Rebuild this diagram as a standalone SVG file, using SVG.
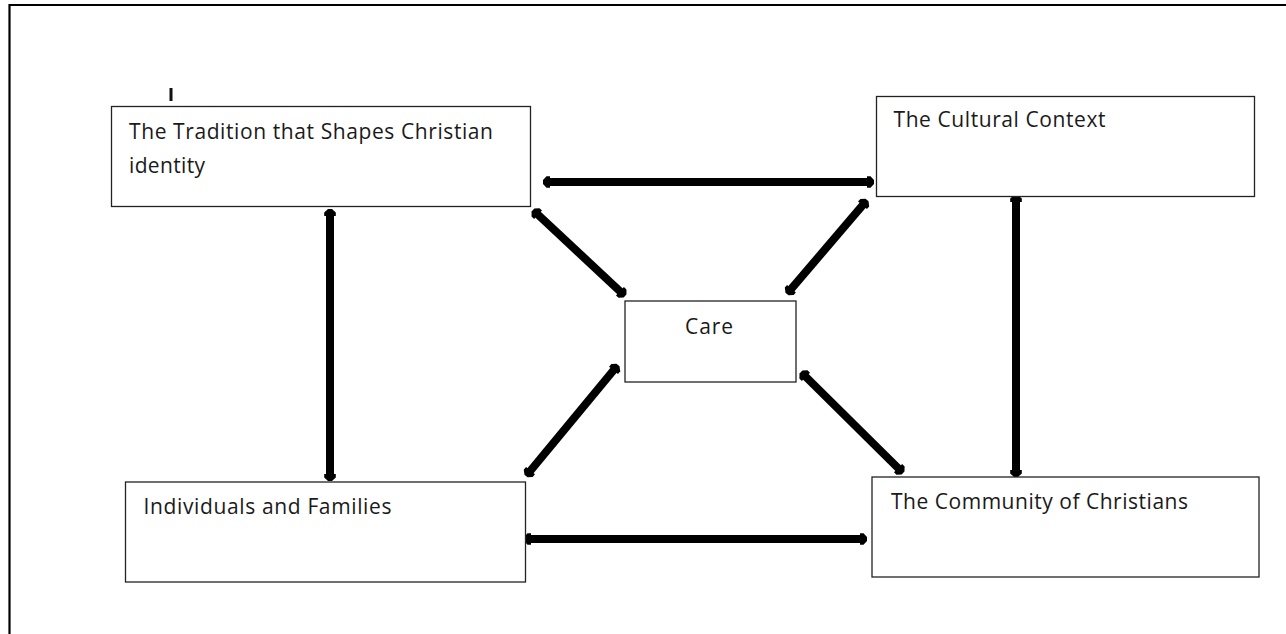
<svg xmlns="http://www.w3.org/2000/svg" width="1286" height="634" viewBox="0 0 1286 634">
  <style>
    .box { fill: #ffffff; stroke: #222222; stroke-width: 1.3; }
    .lbl { font-family: "Open Sans", "Noto Sans", "Liberation Sans", sans-serif; font-size: 21px; fill: #1a1a1a; }
    .conn { stroke: #000000; stroke-width: 8; fill: none; marker-start: url(#head); marker-end: url(#head); }
  </style>
  <defs>
    <marker id="head" markerUnits="userSpaceOnUse" markerWidth="16" markerHeight="16" viewBox="-5 -8 14 16" refX="0" refY="0" orient="auto-start-reverse" overflow="visible">
      <path d="M-2,-5.8 L1.5,-5.8 L5,-2 L5,2 L1.5,5.8 L-2,5.8 Z" fill="#000000"/>
    </marker>
  </defs>
  <rect x="0" y="0" width="1286" height="634" fill="#ffffff"/>
  <!-- page frame -->
  <path d="M9.5,634 L9.5,5 L1286,5" stroke="#000000" stroke-width="2.2" fill="none"/>
  <rect x="169.5" y="88" width="3" height="13" fill="#111111"/>

  <g id="connectors">
    <line class="conn" x1="548" y1="182" x2="869" y2="182"/>
    <line class="conn" x1="529" y1="539" x2="862" y2="539"/>
    <line class="conn" x1="330" y1="214" x2="330" y2="476"/>
    <line class="conn" x1="1016" y1="200" x2="1016" y2="472"/>
    <line class="conn" x1="536.6" y1="213.4" x2="621.4" y2="292.6"/>
    <line class="conn" x1="863.8" y1="203.8" x2="790.2" y2="290.2"/>
    <line class="conn" x1="614.8" y1="368.8" x2="529.2" y2="472.2"/>
    <line class="conn" x1="804.5" y1="375.5" x2="899.5" y2="469.5"/>
  </g>

  <g id="tradition">
    <rect class="box" x="111.5" y="106.5" width="419" height="100"/>
    <text class="lbl" x="129" y="139" textLength="364" lengthAdjust="spacing">The Tradition that Shapes Christian</text>
    <text class="lbl" x="129" y="173" textLength="76" lengthAdjust="spacing">identity</text>
  </g>
  <g id="culture">
    <rect class="box" x="876.5" y="96.5" width="378" height="100"/>
    <text class="lbl" x="893.5" y="127" textLength="212" lengthAdjust="spacing">The Cultural Context</text>
  </g>
  <g id="care">
    <rect class="box" x="625" y="301" width="171" height="81"/>
    <text class="lbl" x="685" y="334" textLength="48" lengthAdjust="spacing">Care</text>
  </g>
  <g id="individuals">
    <rect class="box" x="125.5" y="482" width="400" height="100"/>
    <text class="lbl" x="143.5" y="514" textLength="248" lengthAdjust="spacing">Individuals and Families</text>
  </g>
  <g id="community">
    <rect class="box" x="872" y="477" width="387" height="100"/>
    <text class="lbl" x="891" y="509" textLength="297" lengthAdjust="spacing">The Community of Christians</text>
  </g>
</svg>
